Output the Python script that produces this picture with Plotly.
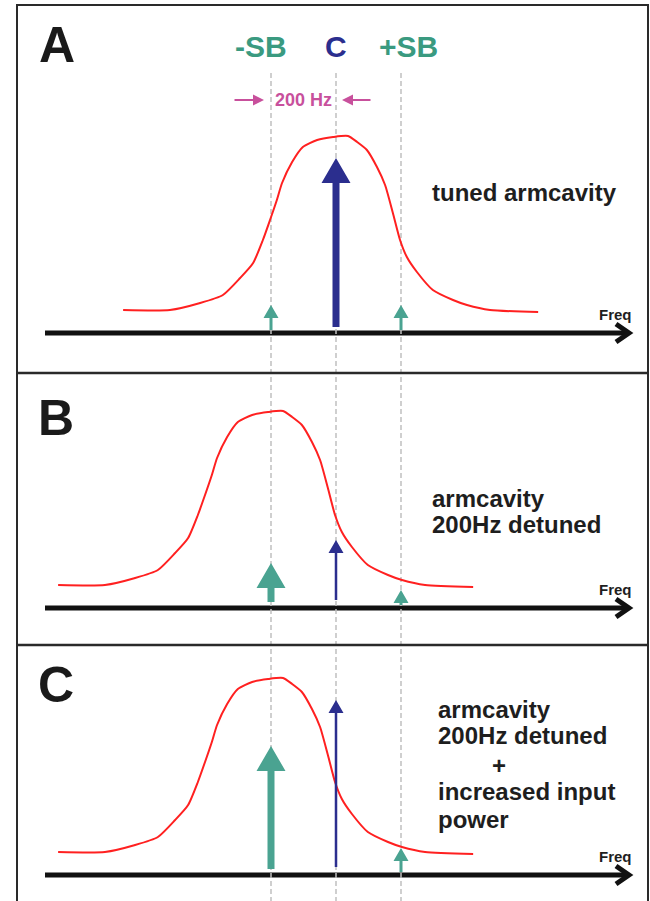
import plotly.graph_objects as go

# ---------------- data ----------------
line_names = ["-SB", "C", "+SB"]
line_freq_hz = [-200, 0, 200]
panel_letters = ["A", "B", "C"]
cavity_detuning_hz = [0, -200, -200]

# arm-cavity response (offset from resonance in Hz, amplitude a.u.)
resp_offset_hz = [-655, -511, -418, -348, -295, -255, -225, -203, -182, -166, -135, -102, -58, -9,
                  37, 65, 95, 126, 151, 175, 197, 218, 249, 298, 360, 403, 474, 622]
resp_amp = [23, 23, 30, 38, 55, 70, 93, 113, 133, 150, 171, 186, 193, 196,
            197, 191, 183, 166, 148, 120, 93, 76, 61, 43, 33, 28, 23, 21]

# field amplitudes of -SB, C, +SB in each panel
amp_A = [28, 175, 28]
amp_B = [45, 68, 18]
amp_C = [129, 175, 27]
panel_amps = [amp_A, amp_B, amp_C]

panel_texts = [
    ["tuned armcavity"],
    ["armcavity", "200Hz detuned"],
    ["armcavity", "200Hz detuned", "+", "increased input", "power"],
]

# ---------------- style / layout constants ----------------
W, H = 650, 901
PX_PER_HZ = 0.325
X0_PX = 336
XRANGE = [-X0_PX / PX_PER_HZ, (W - X0_PX) / PX_PER_HZ]
panel_top_px = [0, 373, 645]
panel_bot_px = [373, 645, 901]
axis_px = [333, 608, 875]

TEAL = "#4aa391"
TEAL_TXT = "#3a9a80"
BLUE = "#2b2e8e"
RED = "#ff2020"
DARK = "#1e1e1e"
FONT = "Liberation Sans"

arrow_styles = {
    "big": dict(shaft=7, head_w=29, head_h=25, base=6),
    "small": dict(shaft=3, head_w=15, head_h=13, base=3),
    "thin": dict(shaft=2.5, head_w=15, head_h=13, base=8),
}
panel_arrow_kind = [["small", "big", "small"], ["big", "thin", "small"], ["big", "thin", "small"]]
line_colors = [TEAL, BLUE, TEAL]

text_pos = [
    [(430, 192.6, "left")],
    [(430, 498.6, "left"), (430, 524.6, "left")],
    [(436, 709.6, "left"), (436, 735.6, "left"), (499, 765, "center"), (436, 791.6, "left"), (436, 819.6, "left")],
]
letter_pos = [(57, 45), (56, 418), (56, 685)]


def px2paper_x(px):
    return px / W


def px2paper_y(py):
    return 1 - py / H


fig = go.Figure()

layout_axes = {}
for i in range(3):
    sfx = "" if i == 0 else str(i + 1)
    top, bot, ax = panel_top_px[i], panel_bot_px[i], axis_px[i]
    layout_axes["xaxis" + sfx] = dict(range=XRANGE, domain=[0, 1], visible=False,
                                       anchor="y" + sfx, fixedrange=True)
    layout_axes["yaxis" + sfx] = dict(range=[-(bot - ax), ax - top],
                                       domain=[px2paper_y(bot), px2paper_y(top)],
                                       visible=False, anchor="x" + sfx, fixedrange=True)

shapes = []
annotations = []

# frequency axes (drawn first, below dashed lines)
for i in range(3):
    sfx = "" if i == 0 else str(i + 1)
    yref = "y" + sfx
    shapes.append(dict(type="line", xref="paper", yref=yref,
                       x0=px2paper_x(45), x1=px2paper_x(627), y0=0, y1=0,
                       line=dict(color="#111111", width=5), layer="below"))
    # chevron head
    xb, xt, hh = px2paper_x(616), px2paper_x(629), 9
    shapes.append(dict(type="path", xref="paper", yref=yref,
                       path=f"M{xb},{hh} L{xt},0 L{xb},{-hh}",
                       line=dict(color="#111111", width=5), layer="below"))
    annotations.append(dict(text="<b>Freq</b>", xref="paper", yref=yref,
                            x=px2paper_x(615), y=19, showarrow=False,
                            xanchor="center", yanchor="middle",
                            font=dict(family=FONT, size=15, color=DARK)))

# dashed guide lines
for f in line_freq_hz:
    shapes.append(dict(type="line", xref="x", yref="paper", x0=f, x1=f,
                       y0=-0.01, y1=px2paper_y(73),
                       line=dict(color="#c0c0c0", width=1.5, dash="5px,3px"), layer="below"))

# frame and dividers
shapes.append(dict(type="rect", xref="paper", yref="paper",
                   x0=px2paper_x(17), x1=px2paper_x(648), y0=-0.02, y1=px2paper_y(5),
                   line=dict(color="#2a2a2a", width=2), layer="below"))
for yd in [373, 645]:
    shapes.append(dict(type="line", xref="paper", yref="paper",
                       x0=px2paper_x(17), x1=px2paper_x(648), y0=px2paper_y(yd), y1=px2paper_y(yd),
                       line=dict(color="#2a2a2a", width=2.5), layer="below"))

# traces
for i in range(3):
    sfx = "" if i == 0 else str(i + 1)
    xs = [o + cavity_detuning_hz[i] for o in resp_offset_hz]
    fig.add_trace(go.Scatter(x=xs, y=resp_amp, mode="lines",
                             line=dict(color=RED, width=2, shape="spline", smoothing=0.6),
                             xaxis="x" + sfx, yaxis="y" + sfx,
                             hoverinfo="skip", showlegend=False))
    for j, f in enumerate(line_freq_hz):
        st = arrow_styles[panel_arrow_kind[i][j]]
        tip = panel_amps[i][j]
        sw = st["shaft"] / PX_PER_HZ / 2
        hw = st["head_w"] / PX_PER_HZ / 2
        hb = tip - st["head_h"]
        base = st["base"]
        ax_ = [f - sw, f - sw, f - hw, f, f + hw, f + sw, f + sw, f - sw]
        ay_ = [base, hb, hb, tip, hb, hb, base, base]
        fig.add_trace(go.Scatter(x=ax_, y=ay_, mode="lines", fill="toself",
                                 fillcolor=line_colors[j], line=dict(width=0, color=line_colors[j]),
                                 xaxis="x" + sfx, yaxis="y" + sfx,
                                 hoverinfo="skip", showlegend=False))

# panel letters
for (lx, ly), letter in zip(letter_pos, panel_letters):
    annotations.append(dict(text=f"<b>{letter}</b>", xref="paper", yref="paper",
                            x=px2paper_x(lx), y=px2paper_y(ly), showarrow=False,
                            xanchor="center", yanchor="middle",
                            font=dict(family=FONT, size=50, color="#1a1a1a")))

# line names
name_px = [261, 336, 408]
name_colors = [TEAL_TXT, BLUE, TEAL_TXT]
for name, nx, col in zip(line_names, name_px, name_colors):
    annotations.append(dict(text=f"<b>{name}</b>", xref="paper", yref="paper",
                            x=px2paper_x(nx), y=px2paper_y(46), showarrow=False,
                            xanchor="center", yanchor="middle",
                            font=dict(family=FONT, size=30, color=col)))

# 200 Hz marker
MAG = "#c8509c"
annotations.append(dict(text="<b>200 Hz</b>", xref="paper", yref="paper",
                        x=px2paper_x(303.5), y=px2paper_y(100), showarrow=False,
                        xanchor="center", yanchor="middle",
                        font=dict(family=FONT, size=18, color=MAG)))
annotations.append(dict(text="", xref="paper", yref="paper",
                        x=px2paper_x(264), y=px2paper_y(100), axref="pixel", ayref="pixel",
                        ax=-31, ay=0, showarrow=True, arrowhead=2, arrowwidth=2,
                        arrowsize=1.1, arrowcolor=MAG, standoff=0))
annotations.append(dict(text="", xref="paper", yref="paper",
                        x=px2paper_x(342), y=px2paper_y(100), axref="pixel", ayref="pixel",
                        ax=30, ay=0, showarrow=True, arrowhead=2, arrowwidth=2,
                        arrowsize=1.1, arrowcolor=MAG, standoff=0))

# descriptive texts
for lines, poss in zip(panel_texts, text_pos):
    for txt, (tx, ty, anc) in zip(lines, poss):
        annotations.append(dict(text=f"<b>{txt}</b>", xref="paper", yref="paper",
                                x=px2paper_x(tx), y=px2paper_y(ty), showarrow=False,
                                xanchor=anc, yanchor="middle",
                                font=dict(family=FONT, size=24, color=DARK)))

fig.update_layout(
    width=W, height=H,
    margin=dict(l=0, r=0, t=0, b=0),
    paper_bgcolor="white", plot_bgcolor="rgba(0,0,0,0)",
    shapes=shapes, annotations=annotations, showlegend=False,
    **layout_axes,
)

fig.write_html("out.html", config={"displayModeBar": False},
               post_script="document.body.style.margin='0';document.body.style.overflow='hidden';")
